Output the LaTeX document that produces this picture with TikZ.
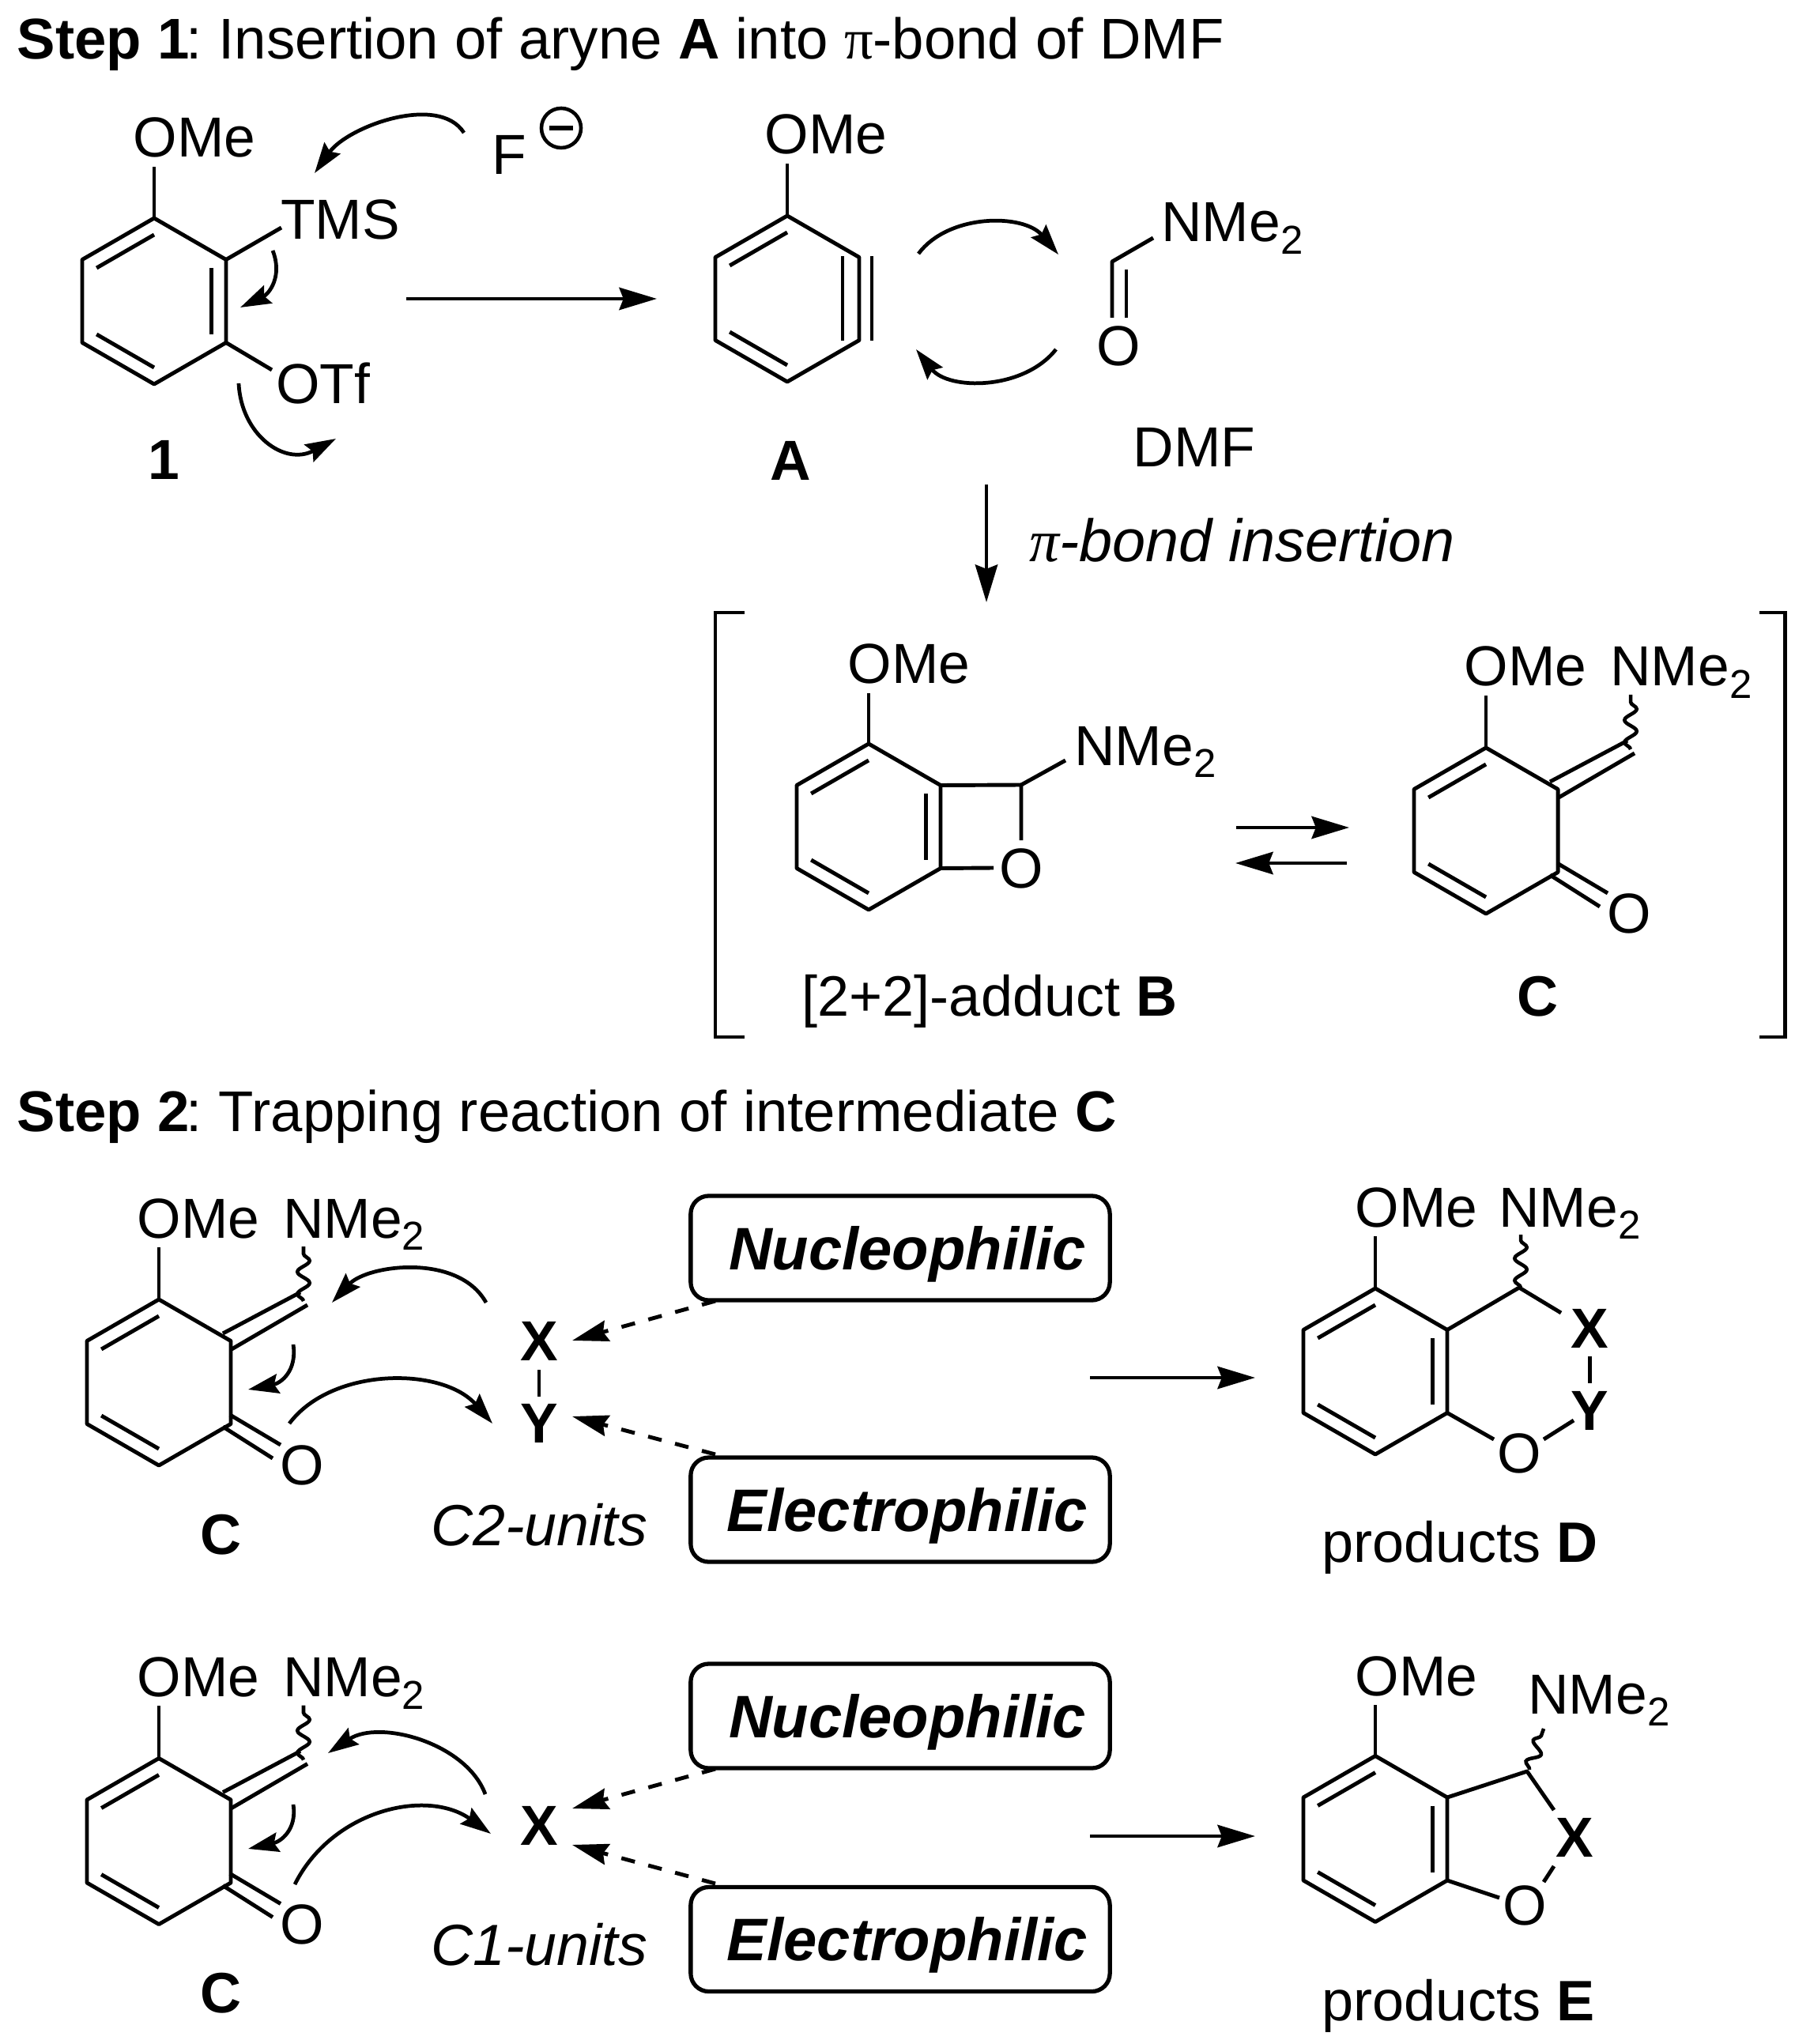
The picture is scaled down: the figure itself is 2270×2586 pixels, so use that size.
\documentclass[tikz,border=0pt]{standalone}
\usepackage{fontspec}
\setmainfont{Liberation Sans}
\newfontfamily\pifont{Liberation Serif}
\usetikzlibrary{arrows.meta,calc,decorations.pathmorphing}

\tikzset{
  atom/.style={inner sep=3pt, anchor=base, font=\fontsize{20.3}{24}\selectfont},
  atomleft/.style={atom, anchor=base west},
  letter/.style={inner sep=0pt, anchor=base, font=\fontsize{20.3}{24}\selectfont},
  boldletter/.style={letter, font=\fontsize{20.3}{24}\selectfont\bfseries},
  labeltext/.style={inner sep=0pt, anchor=base, font=\fontsize{20.5}{24}\selectfont},
  titletext/.style={inner sep=0pt, anchor=base west, font=\fontsize{20.65}{24}\selectfont},
  unitbox/.style={draw, line width=1.5pt, rounded corners=6.5pt, inner sep=0pt,
    minimum width=5.3cm, minimum height=1.32cm, text height=15.4pt, text depth=0pt,
    font=\fontsize{21.6}{24}\selectfont\bfseries\itshape,
    execute at begin node={\hspace{5pt}}},
  bondline/.style={line width=1.4pt, line join=round},
  wavybond/.style={line width=1.3pt, decorate, decoration={snake, amplitude=2.2pt, segment length=8pt}},
  rxnarrow/.style={line width=1.4pt, -{Stealth[length=13.5pt, width=8pt, inset=1.5pt]}},
  elecarrow/.style={line width=1.35pt, -{Stealth[length=11pt, width=7pt, inset=1.5pt]}},
  dasharrow/.style={line width=1.4pt, dash pattern=on 5pt off 5pt, -{Stealth[length=13pt, width=7.6pt, inset=1.5pt]}},
  bracketline/.style={line width=1.4pt}
}

\newcommand{\NMetwo}{NMe\raisebox{-4.5pt}{\fontsize{14.5}{14.5}\selectfont 2}}

\newcommand{\ringat}[3]{
  \path (#2,#3) coordinate (#1) ++(0,-105) coordinate (#11) ++(91,52.5) coordinate (#12)
    ++(0,105) coordinate (#13) ++(-91,52.5) coordinate (#14) ++(-91,-52.5) coordinate (#15)
    ++(0,-105) coordinate (#16);
  \draw [bondline] (#11) -- (#12) -- (#13) -- (#14) -- (#15) -- (#16) -- cycle;
}
\newcommand{\innerbond}[3]{
  \draw [bondline] ($(#1#2)!0.2!(#1)$) -- ($(#1#3)!0.2!(#1)$);
}
\newcommand{\cmol}[3]{
  \ringat{#1}{#2}{#3}
  \innerbond{#1}{1}{6}
  \innerbond{#1}{4}{5}
  \begin{scope}[shift={(#2,#3)}]
    \node [atom] (#1ome) at (50,-183) {OMe};
    \node [atomleft] (#1nme) at (146,-183) {\NMetwo};
    \node [letter, anchor=center] (#1oxo) at (181,105) {O};
    \draw [bondline] (#11) -- (#11 |- #1ome.south);
    \draw [bondline] (81,-62) -- (179,-114);
    \draw [bondline] (92,-42) -- (188,-98);
    \draw [bondline] (90,41) -- (154,79);
    \draw [bondline] (81,56) -- (144,96);
    \draw [wavybond] (183,-103) -- (183,-172);
  \end{scope}
}

\begin{document}
\begin{tikzpicture}[x=0.01cm, y=-0.01cm]
  \useasboundingbox (0,0) rectangle (2270,2586);

  \node [titletext] (stepone) at (21,75) {\textbf{Step 1}\hspace{-1.2pt}:\hspace{-1.6pt} Insertion of aryne \textbf{A} into {\pifont π}-bond of DMF};

  \ringat{ringone}{195}{381}
  \innerbond{ringone}{1}{6}
  \innerbond{ringone}{2}{3}
  \innerbond{ringone}{4}{5}
  \node [atom] (omeone) at (246,199) {OMe};
  \node [atomleft] (tms) at (344,303) {TMS};
  \node [atomleft] (otf) at (338,511) {OTf};
  \node [letter, anchor=base west] (fluor) at (622,221) {F};
  \node [draw, circle, line width=1.3pt, minimum size=0.5cm, inner sep=0pt] (minusf) at (710,162) {};
  \draw [line width=1.7pt] ($(minusf.west)+(12,0)$) -- ($(minusf.east)+(-12,0)$);
  \node [boldletter] (labone) at (207,607) {1};
  \coordinate (tmsend) at (356,288);
  \coordinate (otfend) at (344,468);
  \draw [bondline] (ringone1) -- (ringone1 |- omeone.south);
  \draw [bondline] (ringone2) -- (tmsend);
  \draw [bondline] (ringone3) -- (otfend);
  \draw [elecarrow] (587,168) .. controls (555,118) and (440,160) .. (398,219);
  \draw [elecarrow] (345,317) .. controls (358,350) and (340,372) .. (304,389);
  \draw [elecarrow] (302,485) .. controls (305,550) and (360,590) .. (425,555);

  \draw [rxnarrow] (514,378) -- (831,378);

  \ringat{ringa}{996}{378}
  \innerbond{ringa}{1}{6}
  \innerbond{ringa}{4}{5}
  \draw [bondline] (1066,324) -- (1066,431);
  \draw [bondline] (1103,324) -- (1103,431);
  \node [atom] (omea) at (1045,195) {OMe};
  \node [boldletter] (laba) at (1000,608) {A};
  \draw [bondline] (ringa1) -- (ringa1 |- omea.south);

  \draw [elecarrow] (1162,321) .. controls (1200,270) and (1295,270) .. (1339,322);
  \draw [elecarrow] (1336,442) .. controls (1295,494) and (1200,494) .. (1159,442);

  \coordinate (dmfc) at (1407,331);
  \coordinate (dmfn) at (1459,301);
  \node [atomleft] (dmfnme) at (1458,306) {\NMetwo};
  \node [letter, anchor=center] (dmfo) at (1415,438) {O};
  \node [letter, anchor=base west] (dmf) at (1433,591) {DMF};
  \draw [bondline] (dmfn) -- (dmfc) -- (1407,402);
  \draw [bondline] (1425,341) -- (1425,402);

  \coordinate (insertion) at (1248,762);
  \draw [rxnarrow] (1248,613) -- (insertion);
  \node [labeltext, anchor=base west, font=\fontsize{21.5}{24}\selectfont\itshape] (pibond) at (1302,711) {{\pifont π}-bond insertion};

  \draw [bracketline] (942,775) -- (905,775) -- (905,1312) -- (942,1312);
  \draw [bracketline] (2226,775) -- (2258,775) -- (2258,1312) -- (2226,1312);

  \ringat{ringb}{1099}{1046}
  \innerbond{ringb}{1}{6}
  \innerbond{ringb}{2}{3}
  \innerbond{ringb}{4}{5}
  \node [atom] (omeb) at (1150,865) {OMe};
  \node [atomleft] (nmeb) at (1348,968) {\NMetwo};
  \node [letter, anchor=center] (oxob) at (1292,1099) {O};
  \coordinate (chb) at (1292,993);
  \draw [bondline] (ringb1) -- (ringb1 |- omeb.south);
  \draw [bondline] (ringb2) -- (chb) -- (1292,1063);
  \draw [bondline] (chb) -- (1348,962);
  \draw [bondline] (ringb3) -- (1257,1098);
  \node [labeltext] (labb) at (1252,1285) {[2+2]-adduct \textbf{B}};

  \draw [rxnarrow] (1564,1047) -- (1707,1047);
  \draw [rxnarrow] (1704,1092) -- (1563,1092);

  \cmol{ringc}{1880}{1051}
  \node [labeltext, font=\fontsize{20.5}{24}\selectfont\bfseries] (labc) at (1945,1285) {C};

  \node [titletext] (steptwo) at (21,1431) {\textbf{Step 2}\hspace{-1.2pt}:\hspace{-1.6pt} Trapping reaction of intermediate \textbf{C}};

  \cmol{ringd}{201}{1749}
  \node [labeltext, font=\fontsize{20.5}{24}\selectfont\bfseries] (labcd) at (280,1966) {C};
  \node [boldletter, anchor=center] (xd) at (682,1697) {X};
  \node [boldletter, anchor=center] (yd) at (682,1801) {Y};
  \draw [bondline] (682,1733) -- (682,1767);
  \draw [elecarrow] (615,1648) .. controls (580,1585) and (465,1600) .. (420,1648);
  \draw [elecarrow] (371,1701) .. controls (376,1735) and (355,1750) .. (314,1758);
  \draw [elecarrow] (366,1801) .. controls (420,1729) and (560,1729) .. (623,1801);
  \node [labeltext, font=\fontsize{20.9}{24}\selectfont\itshape] (ctwo) at (682,1955) {C2-units};
  \node [unitbox] (nucd) at (1139,1579) {Nucleophilic};
  \node [unitbox] (eled) at (1139,1910) {Electrophilic};
  \draw [dasharrow] (905,1646) -- (724,1696);
  \draw [dasharrow] (905,1840) -- (724,1792);
  \draw [rxnarrow] (1379,1743) -- (1588,1743);

  \ringat{ringp}{1740}{1735}
  \innerbond{ringp}{1}{6}
  \innerbond{ringp}{2}{3}
  \innerbond{ringp}{4}{5}
  \node [atom] (omep) at (1792,1552) {OMe};
  \node [atomleft] (nmep) at (1885,1552) {\NMetwo};
  \node [boldletter, anchor=center] (xp) at (2011,1681) {X};
  \node [boldletter, anchor=center] (yp) at (2011,1785) {Y};
  \node [letter, anchor=center] (oxop) at (1922,1839) {O};
  \coordinate (chp) at (1922,1629);
  \draw [bondline] (ringp1) -- (ringp1 |- omep.south);
  \draw [bondline] (ringp2) -- (chp) -- (1975,1661);
  \draw [bondline] (2011,1716) -- (2011,1750);
  \draw [bondline] (ringp3) -- (1890,1821);
  \draw [bondline] (1953,1821) -- (1991,1797);
  \draw [wavybond] (1924,1629) -- (1924,1562);
  \node [labeltext] (labd) at (1847,1976) {products \textbf{D}};

  \cmol{ringe}{201}{2329.5}
  \node [labeltext, font=\fontsize{20.5}{24}\selectfont\bfseries] (labce) at (280,2546) {C};
  \node [boldletter, anchor=center] (xe) at (682,2310) {X};
  \draw [elecarrow] (614,2270) .. controls (590,2205) and (480,2175) .. (415,2218);
  \draw [elecarrow] (371,2283) .. controls (376,2315) and (355,2330) .. (314,2339);
  \draw [elecarrow] (373,2384) .. controls (420,2290) and (540,2262) .. (621,2320);
  \node [labeltext, font=\fontsize{20.9}{24}\selectfont\itshape] (cone) at (682,2486) {C1-units};
  \node [unitbox] (nuce) at (1139,2171) {Nucleophilic};
  \node [unitbox] (elee) at (1139,2453.5) {Electrophilic};
  \draw [dasharrow] (905,2238) -- (724,2288);
  \draw [dasharrow] (905,2383) -- (724,2334);
  \draw [rxnarrow] (1379,2323) -- (1588,2323);

  \ringat{ringq}{1740}{2326.5}
  \innerbond{ringq}{1}{6}
  \innerbond{ringq}{2}{3}
  \innerbond{ringq}{4}{5}
  \node [atom] (omeq) at (1792,2145) {OMe};
  \node [atomleft] (nmeq) at (1922,2168) {\NMetwo};
  \node [boldletter, anchor=center] (xq) at (1992,2325) {X};
  \node [letter, anchor=center] (oxoq) at (1929,2411) {O};
  \coordinate (chq) at (1932,2241);
  \draw [bondline] (ringq1) -- (ringq1 |- omeq.south);
  \draw [bondline] (ringq2) -- (chq) -- (1966,2290);
  \draw [bondline] (1966,2361) -- (1953,2381);
  \draw [bondline] (ringq3) -- (1897,2401);
  \draw [wavybond] (1935,2239) -- (1953,2187);
  \node [labeltext] (labe) at (1845,2556) {products \textbf{E}};
\end{tikzpicture}
\end{document}
